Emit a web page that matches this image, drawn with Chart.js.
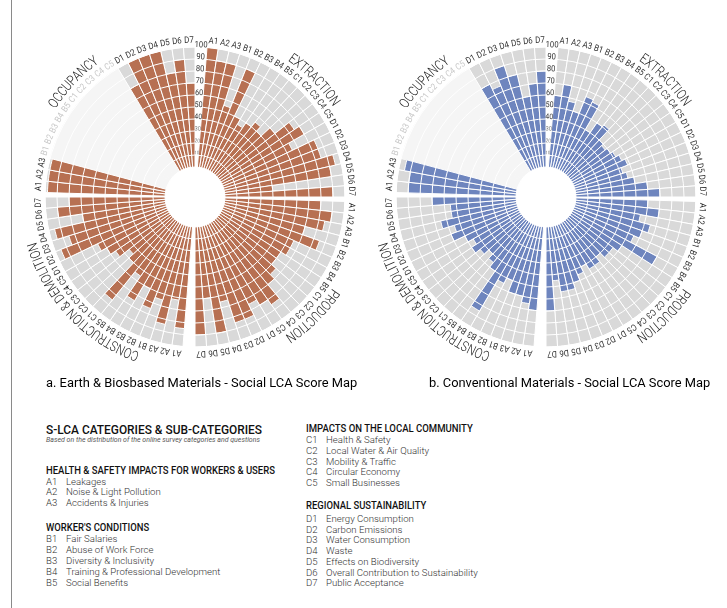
<!DOCTYPE html>
<html>
<head>
<meta charset="utf-8">
<script src="https://cdn.jsdelivr.net/npm/chart.js@4.4.1/dist/chart.umd.min.js"></script>
<style>
  html, body { margin: 0; padding: 0; background: #fff; width: 727px; height: 608px; overflow: hidden; }
  #page { position: relative; width: 727px; height: 608px; font-family: Roboto, "Noto Sans", sans-serif; }
  .frame { position: absolute; left: 11px; top: 0; width: 1px; height: 608px; background: #8a8a8a; }
  canvas.wheel { position: absolute; top: 17px; }
  .t { position: absolute; white-space: nowrap; line-height: 1; transform-origin: 0 50%; transform: translateY(-50%); }
  .cap { font-size: 12.5px; color: #000; }
  .head { font-weight: 500; color: #111; }
  .item { font-size: 9.6px; font-weight: 300; color: #333; }
</style>
</head>
<body>
<div id="page">
  <div class="frame"></div>
  <canvas id="wheelA" class="wheel" width="360" height="360" style="left:15px"></canvas>
  <canvas id="wheelB" class="wheel" width="360" height="360" style="left:366px"></canvas>
  <div id="texts"></div>
</div>
<script>
// Sub-category codes shared by every life-cycle stage
const SUB_CODES = ['A1','A2','A3','B1','B2','B3','B4','B5','C1','C2','C3','C4','C5','D1','D2','D3','D4','D5','D6','D7'];
const STAGE_TITLES = ['EXTRACTION', 'PRODUCTION', 'CONSTRUCTION & DEMOLITION', 'OCCUPANCY'];
const TICK_VALUES = [10, 20, 30, 40, 50, 60, 70, 80, 90, 100];

// a. Earth & biobased materials (scores 0-100, null = not assessed)
const earthExtraction   = [100, 90, 90, 55, 90, 50, 45, 50, 55, 50, 60, 75, 80, 65, 85, 85, 95, 90, 40, 90];
const earthProduction   = [80, 90, 85, 70, 85, 65, 65, 60, 60, 65, 70, 85, 80, 75, 85, 85, 65, 90, 60, 90];
const earthConstruction = [85, 62, 84, 65, 75, 60, 75, 55, 85, 50, 45, 55, 60, 65, 95, 85, 95, 70, 90, 80];
const earthOccupancy    = [98, 98, 98, null, null, null, null, null, null, null, null, null, null, 80, 100, 100, 100, 80, 90, 70];

// b. Conventional materials
const convExtraction   = [60, 70, 57, 50, 65, 63, 40, 50, 52, 40, 38, 40, 42, 45, 48, 42, 45, 50, 60, 70];
const convProduction   = [60, 70, 55, 65, 60, 55, 80, 50, 45, 45, 40, 45, 45, 40, 45, 50, 55, 55, 45, 70];
const convConstruction = [70, 65, 60, 60, 50, 55, 85, 50, 45, 40, 45, 50, 45, 50, 60, 55, 65, 55, 55, 70];
const convOccupancy    = [90, 90, 95, null, null, null, null, null, null, null, null, null, null, 80, 75, 90, 80, 60, 70, 80];

// Caption and legend text
const CAPTIONS = ['a. Earth & Biosbased Materials - Social LCA Score Map', 'b. Conventional Materials - Social LCA Score Map'];
const LEGEND_TITLE = 'S-LCA CATEGORIES & SUB-CATEGORIES';
const LEGEND_NOTE = 'Based on the distribution of the online survey categories and questions';
const GROUP_A = ['HEALTH & SAFETY IMPACTS FOR WORKERS & USERS', 'Leakages', 'Noise & Light Pollution', 'Accidents & Injuries'];
const GROUP_B = ["WORKER'S CONDITIONS", 'Fair Salaries', 'Abuse of Work Force', 'Diversity & Inclusivity', 'Training & Professional Development', 'Social Benefits'];
const GROUP_C = ['IMPACTS ON THE LOCAL COMMUNITY', 'Health & Safety', 'Local Water & Air Quality', 'Mobility & Traffic', 'Circular Economy', 'Small Businesses'];
const GROUP_D = ['REGIONAL SUSTAINABILITY', 'Energy Consumption', 'Carbon Emissions', 'Water Consumption', 'Waste', 'Effects on Biodiversity', 'Overall Contribution to Sustainability', 'Public Acceptance'];

// ---- wheel geometry ----
const SCALE_MIN = -25;          // leaves an empty hub in the middle
const SCALE_MAX = 100;
const GAP_V = 4.6;              // gap (deg) at 12 and 6 o'clock
const GAP_H = 1.7;              // gap (deg) at 3 and 9 o'clock
const GREY = '#d9d9d9';
const EMPTY = '#f5f5f5';

function buildSlots(stages) {
  const slots = [{ gap: true, angle: GAP_V / 2 }];
  stages.forEach((vals, s) => {
    const gap = s % 2 === 0 ? GAP_V : GAP_H;
    if (s > 0) slots.push({ gap: true, angle: gap });
    const step = (90 - gap) / vals.length;
    vals.forEach((v, i) => slots.push({ gap: false, stage: s, sub: i, value: v, angle: step }));
  });
  slots.push({ gap: true, angle: GAP_V / 2 });
  return slots;
}

function drawCurved(ctx, text, cx, cy, r, midAngle, font, sx) {
  ctx.font = font;
  const widths = [...text].map(ch => ctx.measureText(ch).width * sx);
  const total = widths.reduce((a, b) => a + b, 0);
  let a = midAngle - total / r / 2;
  [...text].forEach((ch, i) => {
    const mid = a + widths[i] / 2 / r;
    ctx.save();
    ctx.translate(cx + r * Math.cos(mid), cy + r * Math.sin(mid));
    ctx.rotate(mid + Math.PI / 2);
    ctx.scale(sx, 1);
    ctx.fillText(ch, 0, 0);
    ctx.restore();
    a += widths[i] / r;
  });
}

const TITLE_SHIFT = [-1.8, -0.6, -0.4, -2.5];
const TICK_FONT = { 100: 8.5, 90: 8.5, 80: 8.5, 70: 8.2, 60: 8, 50: 8, 40: 7.5, 30: 6.2, 20: 5.4, 10: 5 };

const wheelDecor = {
  id: 'wheelDecor',
  afterDraw(chart) {
    const ctx = chart.ctx;
    const scale = chart.scales.r;
    const cx = scale.xCenter, cy = scale.yCenter;
    const arcs = chart.getDatasetMeta(1).data;
    const slots = chart.$slots;
    const hub = scale.getDistanceFromCenterForValue(0);

    ctx.save();
    ctx.beginPath();
    ctx.arc(cx, cy, hub, 0, Math.PI * 2);
    ctx.fillStyle = '#fff';
    ctx.fill();

    ctx.textAlign = 'center';
    ctx.textBaseline = 'middle';

    // value scale in the top gap
    const a0 = arcs[0].startAngle;
    TICK_VALUES.forEach(v => {
      const r = scale.getDistanceFromCenterForValue(v) + 2;
      ctx.save();
      ctx.translate(cx + r * Math.cos(a0), cy + r * Math.sin(a0));
      ctx.rotate(a0 + Math.PI / 2);
      ctx.font = TICK_FONT[v] + 'px Roboto';
      ctx.fillStyle = v >= 40 ? '#333' : '#777';
      ctx.scale(0.9, 1);
      ctx.fillText(String(v), 0, 0);
      ctx.restore();
    });

    // sub-category codes around the rim
    slots.forEach((s, i) => {
      if (s.gap) return;
      const arc = arcs[i];
      const a = (arc.startAngle + arc.endAngle) / 2;
      const r = 156.5;
      ctx.save();
      ctx.translate(cx + r * Math.cos(a), cy + r * Math.sin(a));
      ctx.rotate(a + Math.PI / 2);
      ctx.font = '9px Roboto';
      ctx.fillStyle = s.value == null ? '#c8c8c8' : '#333';
      ctx.scale(0.88, 1);
      ctx.fillText(SUB_CODES[s.sub], 0, 0);
      ctx.restore();
    });

    // stage titles following the rim
    ctx.fillStyle = '#222';
    STAGE_TITLES.forEach((title, st) => {
      const idx = slots.map((s, i) => (!s.gap && s.stage === st) ? i : -1).filter(i => i >= 0);
      const start = arcs[idx[0]].startAngle, end = arcs[idx[idx.length - 1]].endAngle;
      const mid = (start + end) / 2 + TITLE_SHIFT[st] * Math.PI / 180;
      drawCurved(ctx, title, cx, cy, 168.5, mid, '300 14px Roboto', 0.8);
    });
    ctx.restore();
  }
};

function makeWheel(id, stages, color) {
  const slots = buildSlots(stages);
  const isGap = i => slots[i].gap;
  const isEmpty = i => !slots[i].gap && slots[i].value == null;
  const chart = new Chart(document.getElementById(id), {
    type: 'polarArea',
    data: {
      labels: slots.map(s => s.gap ? '' : SUB_CODES[s.sub]),
      datasets: [
        {
          label: 'score',
          data: slots.map(s => (s.gap || s.value == null) ? SCALE_MIN : s.value),
          backgroundColor: c => (isGap(c.dataIndex) || isEmpty(c.dataIndex)) ? 'rgba(0,0,0,0)' : color,
          borderColor: '#ffffff',
          borderWidth: c => (isGap(c.dataIndex) || isEmpty(c.dataIndex)) ? 0 : 1,
          angle: c => slots[c.dataIndex].angle
        },
        {
          label: 'range',
          data: slots.map(s => s.gap ? SCALE_MIN : SCALE_MAX),
          backgroundColor: c => isGap(c.dataIndex) ? 'rgba(0,0,0,0)' : (isEmpty(c.dataIndex) ? EMPTY : GREY),
          borderColor: c => isEmpty(c.dataIndex) ? EMPTY : '#ffffff',
          borderWidth: c => isGap(c.dataIndex) ? 0 : 1,
          angle: c => slots[c.dataIndex].angle
        }
      ]
    },
    options: {
      responsive: false,
      animation: false,
      events: [],
      layout: { padding: 30 },
      plugins: { legend: { display: false }, tooltip: { enabled: false } },
      scales: {
        r: {
          min: SCALE_MIN,
          max: SCALE_MAX,
          startAngle: GAP_V / 2,
          ticks: { display: false, stepSize: 10 },
          grid: { color: '#ffffff', lineWidth: 1, circular: true, z: 1 },
          angleLines: { display: false },
          pointLabels: { display: false }
        }
      }
    },
    plugins: [{ id: 'slotStore', beforeInit(c) { c.$slots = slots; } }, wheelDecor]
  });
  return chart;
}

makeWheel('wheelA', [earthExtraction, earthProduction, earthConstruction, earthOccupancy], '#b77052');
makeWheel('wheelB', [convExtraction, convProduction, convConstruction, convOccupancy], '#6e85be');

// ---- captions and legend ----
const texts = document.getElementById('texts');
function addText(str, x, y, cls, style, width) {
  const el = document.createElement('div');
  el.className = 't ' + cls;
  el.textContent = str;
  el.style.left = x + 'px';
  el.style.top = y + 'px';
  if (style) el.style.cssText += style;
  if (width) el.dataset.w = width;
  texts.appendChild(el);
  return el;
}
addText(CAPTIONS[0], 46, 383, 'cap', '', 311);
addText(CAPTIONS[1], 429, 383, 'cap', '', 281);
addText(LEGEND_TITLE, 46, 430, 'head', 'font-size:12.5px;', 216);
addText(LEGEND_NOTE, 46, 440, 'item', 'font-size:7px;font-style:italic;font-weight:400;color:#555;', 214);

function addGroup(lines, letter, x, yHead, ys, headW) {
  addText(lines[0], x, yHead, 'head', 'font-size:10px;', headW);
  lines.slice(1).forEach((str, i) => {
    addText(letter + (i + 1), x, ys[i], 'item', '');
    addText(str, x + 20, ys[i], 'item', '');
  });
}
addGroup(GROUP_A, 'A', 46, 470.7, [481.7, 492.3, 503], 229);
addGroup(GROUP_B, 'B', 46, 528, [539.3, 550.3, 561.3, 572.3, 583], 103);
addGroup(GROUP_C, 'C', 306, 428.7, [440.3, 451, 461.7, 472.3, 483], 167);
addGroup(GROUP_D, 'D', 306, 506, [518.7, 529.7, 540.3, 551, 561.7, 572.7, 583], 120);

function fitTexts() {
  texts.querySelectorAll('[data-w]').forEach(el => {
    el.style.transform = 'translateY(-50%)';
    const k = parseFloat(el.dataset.w) / el.offsetWidth;
    el.style.transform = 'translateY(-50%) scaleX(' + k.toFixed(3) + ')';
  });
}
fitTexts();
if (document.fonts && document.fonts.ready) document.fonts.ready.then(fitTexts);
</script>
</body>
</html>
